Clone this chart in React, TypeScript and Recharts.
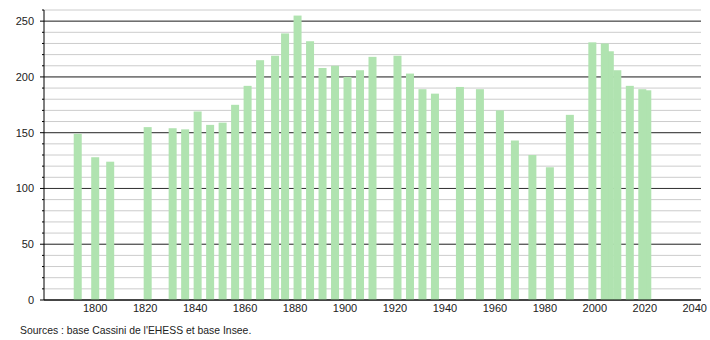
import { Bar, BarChart, CartesianGrid, XAxis, YAxis } from "recharts";

// census years and population
const years = [
  1793, 1800, 1806, 1821, 1831, 1836, 1841, 1846, 1851, 1856, 1861, 1866, 1872,
  1876, 1881, 1886, 1891, 1896, 1901, 1906, 1911, 1921, 1926, 1931, 1936, 1946,
  1954, 1962, 1968, 1975, 1982, 1990, 1999, 2004, 2006, 2009, 2014, 2019, 2021,
];
const population = [
  149, 128, 124, 155, 154, 153, 169, 157, 159, 175, 192, 215, 219,
  239, 255, 232, 208, 210, 200, 206, 218, 219, 203, 189, 185, 191,
  189, 170, 143, 130, 119, 166, 231, 230, 223, 206, 192, 189, 188,
];

const xTicks = [1800, 1820, 1840, 1860, 1880, 1900, 1920, 1940, 1960, 1980, 2000, 2020, 2040];
const yTicks = [0, 10, 20, 30, 40, 50, 60, 70, 80, 90, 100, 110, 120, 130, 140, 150, 160, 170, 180, 190, 200, 210, 220, 230, 240, 250, 260];
const yMajor = [0, 50, 100, 150, 200, 250];

// earlier years are painted over later ones where bars overlap
const data = years.map((year, i) => ({ year, pop: population[i] })).reverse();

const font = "'Liberation Sans', Arial, sans-serif";
const BAR_W = 8;

function YTick({ x, y, payload }: any) {
  const major = payload.value % 50 === 0;
  return (
    <g>
      <line x1={x - (major ? 4 : 2)} x2={x} y1={y} y2={y} stroke="#000" />
      {major && (
        <text x={x - 10} y={y} dy="0.35em" textAnchor="end" fontSize={11} fontFamily={font} fill="#222">
          {payload.value}
        </text>
      )}
    </g>
  );
}

// recharts shrinks bars to fit the 2-year gap, so widen them around their centre
function WideBar({ x, y, width, height, fill }: any) {
  return <rect x={x + width / 2 - BAR_W / 2} y={y} width={BAR_W} height={height} fill={fill} />;
}

const majorLines = ({ yAxis, offset }: any) =>
  yMajor.map((v) =>
    typeof yAxis?.scale === "function"
      ? yAxis.scale(v)
      : offset.top + offset.height * (1 - v / 260)
  );

export default function App() {
  return (
    <div style={{ position: "absolute", left: 0, top: 0, width: 710, height: 340, background: "#fff" }}>
      <BarChart width={710} height={340} data={data} margin={{ top: 10, right: 9, left: 0, bottom: 0 }}>
        <CartesianGrid vertical={false} stroke="#cccccc" />
        <CartesianGrid vertical={false} stroke="#333333" horizontalCoordinatesGenerator={majorLines} />
        <XAxis
          dataKey="year"
          type="number"
          domain={[1779.5, 2042.5]}
          allowDataOverflow
          ticks={xTicks}
          interval={0}
          tickLine={false}
          tickSize={0}
          tickMargin={4}
          height={40}
          axisLine={{ stroke: "#000" }}
          tick={{ fontSize: 11, fontFamily: font, fill: "#222" }}
        />
        <YAxis
          width={44}
          domain={[0, 260]}
          ticks={yTicks}
          interval={0}
          tickLine={false}
          tickSize={0}
          tickMargin={0}
          axisLine={{ stroke: "#000" }}
          tick={<YTick />}
        />
        <Bar dataKey="pop" fill="#b0e3b0" shape={<WideBar />} isAnimationActive={false} />
      </BarChart>
      <div style={{ position: "absolute", left: 20, top: 324, fontSize: 10.4, fontFamily: font, color: "#222", lineHeight: "13px" }}>
        Sources : base Cassini de l'EHESS et base Insee.
      </div>
    </div>
  );
}
